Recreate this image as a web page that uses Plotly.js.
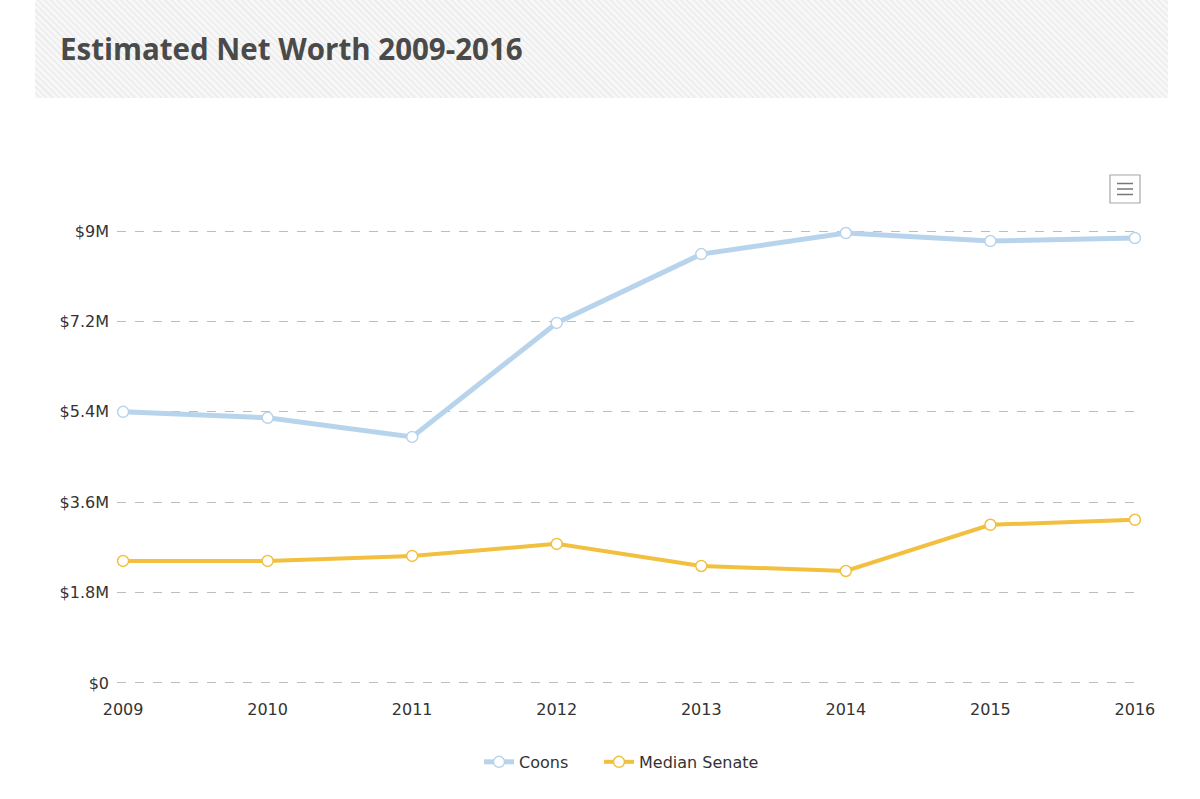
<!DOCTYPE html>
<html>
<head>
<meta charset="utf-8">
<script src="https://cdn.plot.ly/plotly-3.0.1.min.js"></script>
<style>
  html, body { margin: 0; padding: 0; background: #fff; }
  #wrap { position: relative; width: 1200px; height: 799px; }
  #banner { position: absolute; left: 35px; top: 0; width: 1133px; height: 98px;
    background: repeating-linear-gradient(45deg, #f7f7f7 0px, #f7f7f7 3px, #ececec 3px, #ececec 4.5px); }
  #chart { position: absolute; left: 0; top: 0; width: 1200px; height: 799px; }
</style>
</head>
<body>
<div id="wrap">
  <div id="banner"></div>
  <div id="chart"></div>
</div>
<script>
const years = [2009, 2010, 2011, 2012, 2013, 2014, 2015, 2016];
const coons = [5.40, 5.28, 4.90, 7.17, 8.54, 8.96, 8.80, 8.86];
const medianSenate = [2.43, 2.43, 2.53, 2.77, 2.33, 2.23, 3.15, 3.25];
const yTickVals = [0, 1.8, 3.6, 5.4, 7.2, 9];
const yTickText = ['$0', '$1.8M', '$3.6M', '$5.4M', '$7.2M', '$9M'];
const xTickText = years.map(String);

const traces = [
  {
    x: years, y: coons, name: 'Coons', type: 'scatter', mode: 'lines+markers',
    line: { color: '#b8d4ec', width: 5 },
    marker: { size: 11, color: '#ffffff', line: { color: '#b8d4ec', width: 1.5 } },
    cliponaxis: false, legend: 'legend'
  },
  {
    x: years, y: medianSenate, name: 'Median Senate', type: 'scatter', mode: 'lines+markers',
    line: { color: '#f2bf3f', width: 4 },
    marker: { size: 11, color: '#ffffff', line: { color: '#f2bf3f', width: 1.5 } },
    cliponaxis: false, legend: 'legend2'
  }
];

const px = v => (v - 117) / 1024;
const py = v => (688 - v) / 462;
const legendFont = { family: 'DejaVu Sans, Verdana, sans-serif', size: 16, color: '#333333' };

const layout = {
  width: 1200, height: 799,
  paper_bgcolor: 'rgba(0,0,0,0)', plot_bgcolor: 'rgba(0,0,0,0)',
  margin: { l: 117, r: 59, t: 226, b: 111, pad: 0 },
  font: { family: 'DejaVu Sans, Verdana, sans-serif', color: '#333333', size: 16 },
  title: {
    text: '<b>Estimated Net Worth 2009-2016</b>',
    font: { family: 'Open Sans, sans-serif', size: 29.5, color: '#4a4a4a' },
    x: 60 / 1200, xanchor: 'left', xref: 'container',
    y: 1 - 50 / 799, yanchor: 'middle', yref: 'container'
  },
  showlegend: true,
  legend: {
    orientation: 'h', x: px(479), xanchor: 'left', y: -0.160, yanchor: 'middle',
    font: legendFont, itemwidth: 30, bgcolor: 'rgba(0,0,0,0)'
  },
  legend2: {
    orientation: 'h', x: px(599), xanchor: 'left', y: -0.160, yanchor: 'middle',
    font: legendFont, itemwidth: 30, bgcolor: 'rgba(0,0,0,0)'
  },
  xaxis: {
    range: [2008.958, 2016.042], tickvals: years, ticktext: xTickText,
    showgrid: false, zeroline: false, showline: false, ticks: '',
    ticklabelstandoff: 10, fixedrange: true,
    tickfont: { size: 16, color: '#333333' }
  },
  yaxis: {
    range: [-0.1, 9.1], tickvals: yTickVals, ticktext: yTickText,
    showgrid: true, gridcolor: '#bdbdbd', griddash: 'dash', gridwidth: 1,
    zeroline: false, showline: false, ticks: '', ticklabelstandoff: 7,
    fixedrange: true, tickfont: { size: 16, color: '#333333' }
  },
  shapes: [
    { type: 'rect', xref: 'paper', yref: 'paper', x0: px(1110), x1: px(1140), y0: py(203), y1: py(175),
      line: { color: '#a8a8a8', width: 1.2 }, fillcolor: '#ffffff', layer: 'above' },
    { type: 'line', xref: 'paper', yref: 'paper', x0: px(1117), x1: px(1133), y0: py(183.5), y1: py(183.5),
      line: { color: '#777777', width: 1.5 } },
    { type: 'line', xref: 'paper', yref: 'paper', x0: px(1117), x1: px(1133), y0: py(189), y1: py(189),
      line: { color: '#777777', width: 1.5 } },
    { type: 'line', xref: 'paper', yref: 'paper', x0: px(1117), x1: px(1133), y0: py(194.5), y1: py(194.5),
      line: { color: '#777777', width: 1.5 } }
  ],
  hovermode: false
};

Plotly.newPlot('chart', traces, layout, { displayModeBar: false, staticPlot: true });
</script>
</body>
</html>
